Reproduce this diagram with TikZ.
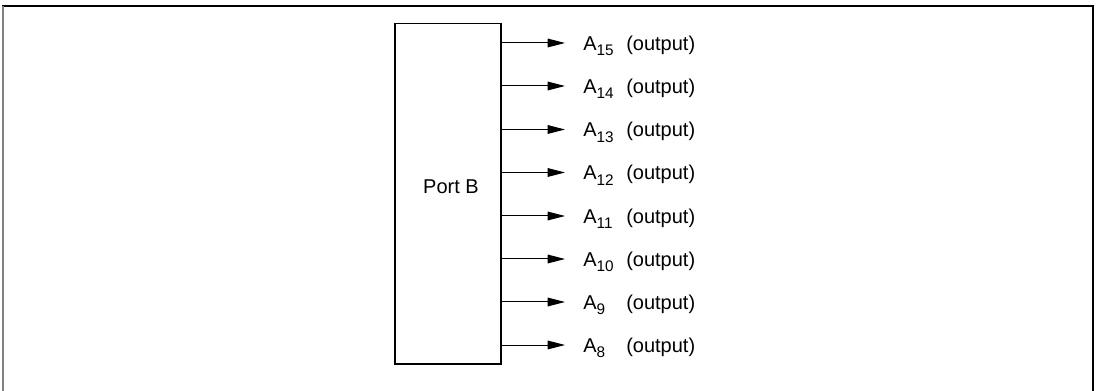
\documentclass[tikz,border=0pt]{standalone}
\usepackage{fontspec}
\setmainfont{Liberation Sans}
\usetikzlibrary{arrows.meta}
\newcommand{\subidx}[1]{\raisebox{-3.8pt}{\fontsize{11.5}{13}\selectfont #1}}
\tikzset{
  box/.style={draw, line width=0.9pt, minimum width=79.5pt, minimum height=255.4pt, inner sep=0pt},
  arr/.style={line width=0.75pt, -{Triangle[length=13pt,width=6.5pt]}},
  lbl/.style={font=\fontsize{15}{18}\selectfont, inner sep=0pt, anchor=base west},
}
\begin{document}
\begin{tikzpicture}[x=0.75pt,y=-0.75pt]
\useasboundingbox (0,0) rectangle (1098,391);
% frame
\draw[black, line width=1.5pt] (2,6) -- (1093,6) -- (1093,391);
\draw[gray, line width=1.6pt] (3,6) -- (3,391);
% box
\node[box] (pb) at (448,193.75) {};
\node[lbl, anchor=base] (pbl) at (451,194) {Port B};
% outputs
\foreach \n/\y in {15/43,14/86,13/129.5,12/172.5,11/216,10/259,9/302,8/345}{
  \coordinate (t\n) at (565,\y);
  \draw[arr] (pb.east |- t\n) -- (t\n);
  \node[lbl] (a\n) at (583,\y+7.5) {A\subidx{\n}};
  \node[lbl] (o\n) at (626,\y+7.5) {(output)};
}
\end{tikzpicture}
\end{document}
